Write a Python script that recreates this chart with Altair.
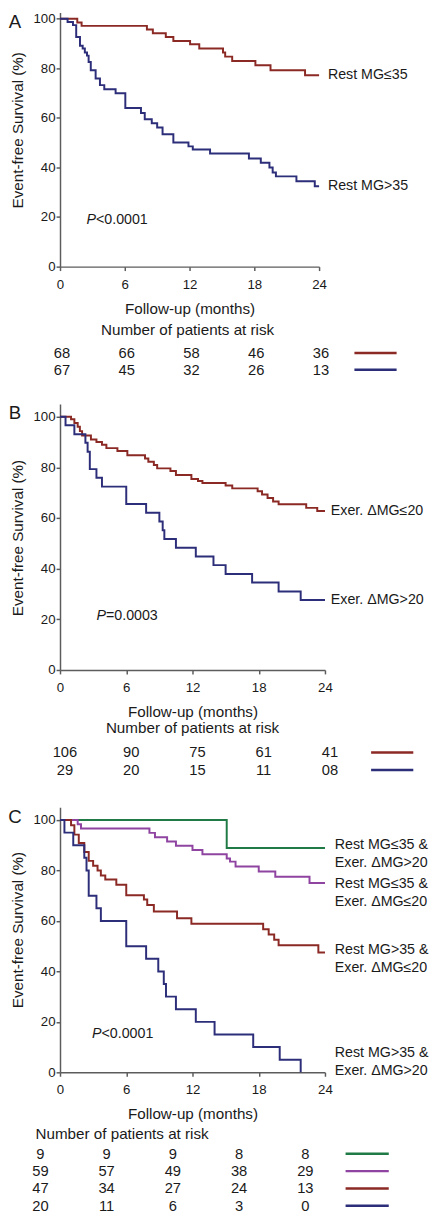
import altair as alt
import pandas as pd

FONT = "Liberation Sans"
RED, BLUE, GREEN, PURPLE = "#8b2a25", "#2d2e7a", "#1f7a45", "#8e44a0"
TXT = "#1a1a1a"
AXC = "#5c5c5c"

TICKS = [0, 6, 12, 18, 24]
YTICKS = [0, 20, 40, 60, 80, 100]

# ---------------- Panel A ----------------
A_low_t = [0, 1.6, 2.0, 8.05, 8.6, 9.8, 10.5, 12.05, 12.9, 15.1, 15.3, 15.95, 18.1, 19.5, 22.7, 24]
A_low_s = [100, 98.5, 97.1, 95.6, 94.1, 92.6, 91.0, 89.7, 88.0, 86.4, 84.7, 82.9, 81.2, 79.2, 77.2, 77.2]
A_high_t = [0, 0.7, 1.2, 1.5, 1.85, 2.1, 2.3, 2.5, 2.65, 2.85, 3.3, 3.7, 4.1, 5.15, 6.05, 7.5, 7.85,
            8.5, 9.0, 9.5, 10.5, 11.9, 12.3, 13.9, 17.5, 18.6, 19.4, 19.7, 20.0, 21.9, 23.6, 24]
A_high_s = [100, 98.7, 97.4, 92.6, 89.1, 88.0, 86.4, 85.1, 82.5, 79.2, 75.9, 73.2, 71.5, 69.9, 64.0, 62.0,
            59.4, 57.8, 56.1, 53.4, 50.1, 48.5, 47.2, 45.6, 43.6, 41.9, 40.0, 38.0, 36.4, 34.4, 32.4, 32.4]
A_labels = ["Rest MG≤35", "Rest MG>35"]
A_risk = [["68", "66", "58", "46", "36"], ["67", "45", "32", "26", "13"]]

# ---------------- Panel B ----------------
B_low_t = [0, 1.0, 1.3, 1.6, 1.8, 2.0, 2.8, 3.3, 3.8, 4.2, 5.2, 6.1, 7.7, 8.0, 8.5, 8.8, 10.0, 10.5,
           11.9, 12.5, 12.9, 15.0, 15.6, 17.9, 18.3, 18.8, 19.3, 19.8, 22.3, 23.3, 24]
B_low_s = [100, 99.0, 97.5, 96.0, 94.3, 92.6, 91.0, 90.0, 88.9, 87.6, 86.5, 84.8, 83.5, 82.2, 80.9, 79.6,
           78.6, 77.0, 75.4, 74.6, 73.8, 72.8, 71.7, 70.6, 69.3, 67.9, 66.5, 65.4, 64.0, 62.8, 62.8]
B_high_t = [0, 0.5, 1.3, 2.3, 2.5, 2.7, 3.3, 3.8, 6.0, 7.8, 9.0, 9.3, 9.45, 10.5, 12.3, 13.9, 15.0,
            17.4, 19.8, 21.8, 24]
B_high_s = [100, 96.6, 93.1, 89.7, 86.2, 79.3, 75.9, 72.4, 65.5, 62.1, 58.6, 55.2, 51.7, 48.3, 44.8,
            41.4, 37.9, 34.5, 31.0, 27.6, 27.6]
B_labels = ["Exer. ΔMG≤20", "Exer. ΔMG>20"]
B_risk = [["106", "90", "75", "61", "41"], ["29", "20", "15", "11", "08"]]

# ---------------- Panel C ----------------
C_g_t = [0, 15.1, 24]
C_g_s = [100, 88.9, 88.9]
C_p_t = [0, 1.6, 1.9, 8.1, 8.6, 9.7, 10.5, 12.0, 12.9, 15.1, 15.4, 15.9, 18.0, 19.5, 22.6, 24]
C_p_s = [100, 98.3, 96.6, 94.9, 93.2, 91.5, 89.8, 88.1, 86.4, 84.7, 83.5, 81.6, 79.6, 77.5, 75.0, 75.0]
C_r_t = [0, 1.0, 1.3, 1.7, 2.2, 2.6, 3.0, 3.4, 3.7, 4.1, 5.1, 6.0, 7.6, 7.9, 8.5, 10.6, 11.9, 18.4,
         18.9, 19.4, 19.8, 23.4, 24]
C_r_s = [100, 97.9, 94.2, 90.9, 87.3, 83.8, 81.9, 80.0, 78.0, 76.4, 74.3, 70.2, 68.5, 66.3, 63.7, 61.1,
         58.9, 56.7, 54.6, 52.5, 50.4, 47.5, 47.5]
C_b_t = [0, 0.4, 1.2, 2.2, 2.4, 2.6, 3.3, 3.7, 6.0, 7.8, 8.9, 9.4, 9.6, 10.5, 12.3, 14.0, 17.5, 19.9, 21.8]
C_b_s = [100, 95, 90, 85, 80, 70, 65, 60, 50, 45, 40, 35, 30, 25, 20, 15, 10, 5, 0]
C_labels = ["Rest MG≤35 &\nExer. ΔMG>20", "Rest MG≤35 &\nExer. ΔMG≤20",
            "Rest MG>35 &\nExer. ΔMG≤20", "Rest MG>35 &\nExer. ΔMG>20"]
C_label_y = [89.9, 74.5, 48.4, 7.6]
C_risk = [["9", "9", "9", "8", "8"], ["59", "57", "49", "38", "29"],
          ["47", "34", "27", "24", "13"], ["20", "11", "6", "3", "0"]]

KEYS = ["A1", "A2", "B1", "B2", "C1", "C2", "C3", "C4"]
CSCALE = alt.Scale(domain=KEYS, range=[RED, BLUE, RED, BLUE, GREEN, PURPLE, RED, BLUE])
ONE = pd.DataFrame({"a": [0]})


def panel(letter, curves, labels, label_y, label_dx, p_sym, p_rest, p_t, p_s, width, height, ytop,
          title_y, risk, row_px, num_dx, header_x, header_y, header_align, sw_px, filler_y):
    keys = [c[0] for c in curves]
    df = pd.DataFrame([{"grp": k, "t": t, "s": s} for k, ts, ss in curves for t, s in zip(ts, ss)])
    xs = alt.Scale(domain=[0, 24], nice=False, zero=False)
    ys = alt.Scale(domain=[0, ytop], nice=False)
    xaxis = alt.Axis(values=TICKS, title="Follow-up (months)", format="d")
    yaxis = alt.Axis(values=YTICKS, title="Event-free Survival (%)", titleY=title_y, format="d")
    color = alt.Color("grp:N", scale=CSCALE, legend=None)

    lines = alt.Chart(df).mark_line(interpolate="step-after", strokeWidth=2).encode(
        x=alt.X("t:Q", scale=xs, axis=xaxis),
        y=alt.Y("s:Q", scale=ys, axis=yaxis),
        color=color, detail="grp:N")

    ldf = pd.DataFrame({"lab": labels, "s": label_y, "t": [24] * len(labels)})
    labs = alt.Chart(ldf).mark_text(align="left", baseline="middle", dx=label_dx, fontSize=14.5,
                                    lineBreak="\n", lineHeight=18, color=TXT).encode(
        x=alt.X("t:Q", scale=xs, axis=xaxis),
        y=alt.Y("s:Q", scale=ys, axis=yaxis),
        text="lab:N")

    pdf = pd.DataFrame({"t": [p_t], "s": [p_s], "a": [p_sym], "b": [p_rest]})
    p1 = alt.Chart(pdf).mark_text(align="left", baseline="middle", fontSize=14.5, fontStyle="italic",
                                  color=TXT).encode(
        x=alt.X("t:Q", scale=xs, axis=xaxis), y=alt.Y("s:Q", scale=ys, axis=yaxis), text="a:N")
    p2 = alt.Chart(pdf).mark_text(align="left", baseline="middle", fontSize=14.5, dx=9.7,
                                  color=TXT).encode(
        x=alt.X("t:Q", scale=xs, axis=xaxis), y=alt.Y("s:Q", scale=ys, axis=yaxis), text="b:N")

    let = alt.Chart(ONE).mark_text(text=letter, fontSize=19, align="center", baseline="middle",
                                   color=TXT).encode(x=alt.value(-46), y=alt.value(9.5))

    survival = alt.layer(lines, labs, p1, p2, let)

    rdf = pd.DataFrame([{"t": TICKS[j], "row": i + 1, "n": risk[i][j]}
                        for i in range(len(risk)) for j in range(5)])
    rs = alt.Scale(domain=[1, len(risk)], range=row_px)
    nums = alt.Chart(rdf).mark_text(align="center", baseline="middle", dx=num_dx, fontSize=15,
                                    color=TXT).encode(
        x=alt.X("t:Q", scale=xs, axis=xaxis),
        y=alt.Y("row:Q", scale=rs, axis=None),
        text="n:N")
    swdf = pd.DataFrame({"row": list(range(1, len(risk) + 1)), "grp": keys})
    sw = alt.Chart(swdf).mark_rule(strokeWidth=2.5).encode(
        x=alt.value(sw_px[0]), x2=alt.value(sw_px[1]),
        y=alt.Y("row:Q", scale=rs, axis=None), color=color)
    head = alt.Chart(ONE).mark_text(text="Number of patients at risk", fontSize=15.5, align=header_align,
                                    baseline="middle", color=TXT).encode(
        x=alt.value(header_x), y=alt.value(header_y))
    layers = [nums, sw, head]
    if filler_y is not None:
        filler = alt.Chart(ONE).mark_rule(color="white", strokeWidth=1).encode(
            x=alt.value(0), x2=alt.value(2), y=alt.value(filler_y))
        layers.append(filler)
    table = alt.layer(*layers)

    return alt.layer(survival, table).resolve_scale(y="independent").properties(width=width, height=height)


pA = panel("A", [("A1", A_low_t, A_low_s), ("A2", A_high_t, A_high_s)],
           A_labels, [77.2, 32.4], 9, "P", "<0.0001", 2.45, 18.6,
           264, 259, 102.5, 119.5, A_risk, [347, 364], 2, 130, 324, "center", [300, 343], 398.5)
pB = panel("B", [("B1", B_low_t, B_low_s), ("B2", B_high_t, B_high_s)],
           B_labels, [62.8, 27.6], 6, "P", "=0.0003", 3.3, 21.3,
           270, 271, 105, 136, B_risk, [355, 373], 5, 135, 330, "center", [317, 360], 410.5)
pC = panel("C", [("C1", C_g_t, C_g_s), ("C2", C_p_t, C_p_s), ("C3", C_r_t, C_r_s), ("C4", C_b_t, C_b_s)],
           C_labels, C_label_y, 10, "P", "<0.0001", 2.9, 15.2,
           270, 270, 105, 124.5, C_risk, [353, 406], -20, -25, 333, "left", [291, 335], None)

chart = alt.vconcat(pA, pB, pC, spacing=0).properties(
    padding={"left": 0, "top": -8, "right": 0, "bottom": 0}
).configure(font=FONT).configure_view(stroke=None).configure_axis(
    domainColor=AXC, domainWidth=1.5, tickColor=AXC, tickWidth=1.5, tickSize=4,
    labelFontSize=13.5, labelColor=TXT, titleFontSize=15.5, titleFontWeight="normal",
    titleColor=TXT, grid=False, labelFlush=False
).configure_axisY(titlePadding=8, labelPadding=1).configure_axisX(labelPadding=7, titlePadding=11)

chart.save("out.html", embed_options={"renderer": "svg", "actions": False})
